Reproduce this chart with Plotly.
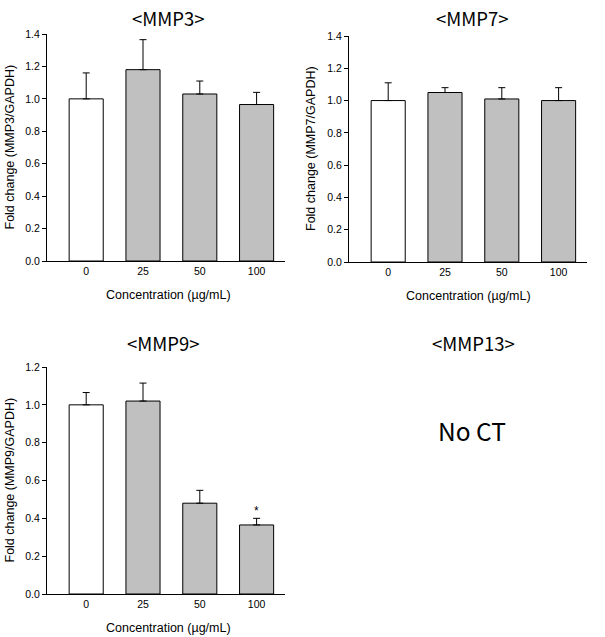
import plotly.graph_objects as go

W, H = 605, 637
categories = ["0", "25", "50", "100"]

mmp3_mean = [1.00, 1.18, 1.03, 0.965]
mmp3_err = [0.16, 0.185, 0.08, 0.075]

mmp7_mean = [1.00, 1.05, 1.01, 1.00]
mmp7_err = [0.11, 0.03, 0.07, 0.08]

mmp9_mean = [1.00, 1.02, 0.48, 0.365]
mmp9_err = [0.065, 0.095, 0.068, 0.035]

bar_colors = ["#FFFFFF", "#C0C0C0", "#C0C0C0", "#C0C0C0"]

y3_ticks = [0.0, 0.2, 0.4, 0.6, 0.8, 1.0, 1.2, 1.4]
y9_ticks = [0.0, 0.2, 0.4, 0.6, 0.8, 1.0, 1.2]

TICK_FONT = dict(family="Liberation Sans, Arial, sans-serif", size=10.5, color="#000")
LABEL_FONT = dict(family="Liberation Sans, Arial, sans-serif", size=12.5, color="#000")
TITLE_FONT = dict(family="Noto Sans CJK KR, Noto Sans, sans-serif", size=18.5, color="#000")

fig = go.Figure()

def px_x(x):
    return x / W

def px_y(y):
    return 1 - y / H

panels = [
    (mmp3_mean, mmp3_err, "x", "y", (47, 285), (34, 261), 1.4, y3_ticks),
    (mmp7_mean, mmp7_err, "x2", "y2", (349, 587), (36, 262), 1.4, y3_ticks),
    (mmp9_mean, mmp9_err, "x3", "y3", (47, 285), (367, 594), 1.2, y9_ticks),
]

for i, (m, e, xa, ya, xd, yd, ymax, ticks) in enumerate(panels):
    fig.add_trace(go.Bar(
        x=categories, y=m, xaxis=xa, yaxis=ya, width=0.6,
        marker=dict(color=bar_colors, line=dict(color="#000", width=1)),
        error_y=dict(type="data", array=e, arrayminus=[0] * len(e), symmetric=False,
                     color="#000", thickness=1, width=3.5),
        showlegend=False, hoverinfo="skip",
    ))
    sfx = "" if i == 0 else str(i + 1)
    fig.layout["xaxis" + sfx] = dict(
        domain=[px_x(xd[0]), px_x(xd[1])], anchor=ya, type="category",
        range=[-0.69, 3.5], showline=True, linecolor="#000", linewidth=1,
        ticks="", showgrid=False, zeroline=False, tickfont=TICK_FONT,
        fixedrange=True, automargin=False,
    )
    fig.layout["yaxis" + sfx] = dict(
        domain=[px_y(yd[1]), px_y(yd[0])], anchor=xa, range=[0, ymax],
        tickvals=ticks, ticktext=[f"{t:.1f}" for t in ticks],
        showline=True, linecolor="#000", linewidth=1, ticks="outside",
        ticklen=4, tickcolor="#000", showgrid=False, zeroline=False,
        tickfont=TICK_FONT, fixedrange=True, automargin=False,
    )

ann = []
ann.append(dict(text="&lt;MMP3&gt;", x=px_x(168), y=px_y(18)))
ann.append(dict(text="&lt;MMP7&gt;", x=px_x(472), y=px_y(18)))
ann.append(dict(text="&lt;MMP9&gt;", x=px_x(163), y=px_y(343)))
ann.append(dict(text="&lt;MMP13&gt;", x=px_x(473), y=px_y(343)))
for a in ann:
    a.update(xref="paper", yref="paper", showarrow=False, font=TITLE_FONT,
             xanchor="center", yanchor="middle")

others = [
    dict(text="No CT", x=px_x(472), y=px_y(430),
         font=dict(family="Noto Sans CJK KR, Noto Sans, sans-serif", size=24.5, color="#000")),
    dict(text="Fold change (MMP3/GAPDH)", x=px_x(9), y=px_y(147.5), textangle=-90, font=LABEL_FONT),
    dict(text="Fold change (MMP7/GAPDH)", x=px_x(311), y=px_y(149), textangle=-90, font=LABEL_FONT),
    dict(text="Fold change (MMP9/GAPDH)", x=px_x(9), y=px_y(480.5), textangle=-90, font=LABEL_FONT),
    dict(text="Concentration (µg/mL)", x=px_x(168), y=px_y(295), font=LABEL_FONT),
    dict(text="Concentration (µg/mL)", x=px_x(468), y=px_y(296), font=LABEL_FONT),
    dict(text="Concentration (µg/mL)", x=px_x(168), y=px_y(628), font=LABEL_FONT),
]
for a in others:
    a.update(xref="paper", yref="paper", showarrow=False, xanchor="center", yanchor="middle")
ann.extend(others)

# significance asterisk above MMP9 100 µg/mL bar (category index 3)
ann.append(dict(text="*", x=categories.index("100"), y=mmp9_mean[3] + mmp9_err[3],
                xref="x3", yref="y3", showarrow=False, xanchor="center",
                yanchor="bottom", yshift=-2,
                font=dict(family="Liberation Sans, Arial, sans-serif", size=12, color="#000")))

fig.update_layout(
    width=W, height=H, margin=dict(l=0, r=0, t=0, b=0),
    paper_bgcolor="#FFFFFF", plot_bgcolor="#FFFFFF",
    annotations=ann, bargap=0.4,
)

fig.write_html("out.html", config={"displayModeBar": False},
               post_script="document.body.style.margin='0';document.body.style.overflow='hidden';")
